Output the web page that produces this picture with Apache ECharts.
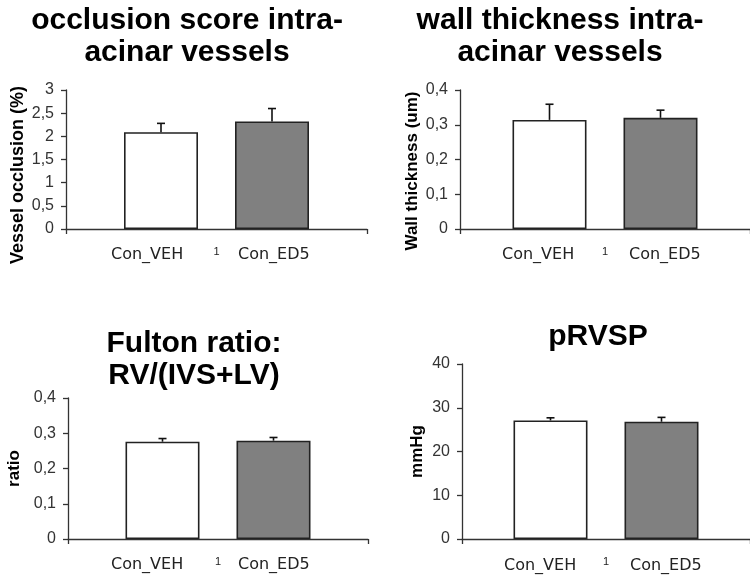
<!DOCTYPE html>
<html>
<head>
<meta charset="utf-8">
<script src="https://cdn.jsdelivr.net/npm/echarts@6/dist/echarts.min.js"></script>
<style>
  html, body { margin: 0; padding: 0; background: #fff; }
  #chart { width: 750px; height: 577px; }
</style>
</head>
<body>
<div id="chart"></div>
<script>
// groups and the single category on each x axis
const groups = ['Con_VEH', 'Con_ED5']
const category = ['1']

// occlusion score intra-acinar vessels
const occlusionMean = [2.09, 2.32]
const occlusionErr = [0.19, 0.28]
const occlusionTicks = [0, 0.5, 1, 1.5, 2, 2.5, 3]

// wall thickness intra-acinar vessels
const wallMean = [0.314, 0.320]
const wallErr = [0.045, 0.022]
const wallTicks = [0, 0.1, 0.2, 0.3, 0.4]

// Fulton ratio RV/(IVS+LV)
const fultonMean = [0.276, 0.279]
const fultonErr = [0.009, 0.009]
const fultonTicks = [0, 0.1, 0.2, 0.3, 0.4]

// pRVSP
const rvspMean = [27.1, 26.8]
const rvspErr = [0.6, 1.0]
const rvspTicks = [0, 10, 20, 30, 40]

const BAR_W = 74
const GAP = 0.5
const FONT = 'Liberation Sans, Arial, sans-serif'

const panels = [
  {
    title: 'occlusion score intra-\nacinar vessels', titleX: 187, titleTop: 5,
    yName: 'Vessel occlusion (%)', nameSize: 18, nameGap: 39, nameShift: 31,
    grid: { left: 66, top: 90, right: 383, bottom: 348 },
    mean: occlusionMean, err: occlusionErr, ticks: occlusionTicks,
    legendX: [105, 232], legendTop: 247,
  },
  {
    title: 'wall thickness intra-\nacinar vessels', titleX: 560, titleTop: 5,
    yName: 'Wall thickness (um)', nameSize: 17, nameGap: 39, nameShift: 23,
    grid: { left: 460, top: 90, right: 0, bottom: 348 },
    mean: wallMean, err: wallErr, ticks: wallTicks,
    legendX: [496, 623], legendTop: 247,
  },
  {
    title: 'Fulton ratio:\nRV/(IVS+LV)', titleX: 194, titleTop: 328,
    yName: 'ratio', nameSize: 17, nameGap: 45, nameShift: 0,
    grid: { left: 68, top: 398, right: 382, bottom: 38 },
    mean: fultonMean, err: fultonErr, ticks: fultonTicks,
    legendX: [105, 232], legendTop: 557,
  },
  {
    title: 'pRVSP', titleX: 598, titleTop: 321,
    yName: 'mmHg', nameSize: 17, nameGap: 36, nameShift: 0,
    grid: { left: 462, top: 364, right: 0, bottom: 38 },
    mean: rvspMean, err: rvspErr, ticks: rvspTicks,
    legendX: [498, 624], legendTop: 558,
  },
]

const fmt = v => String(v).replace('.', ',')

function errorBars(params, api) {
  const mean = api.value(1)
  const err = api.value(2)
  const base = api.coord([api.value(0), mean])
  const top = api.coord([api.value(0), mean + err])
  const off = (params.dataIndex === 0 ? -1 : 1) * BAR_W * (1 + GAP) / 2
  const x = base[0] + off
  const style = { stroke: '#111', lineWidth: 1.6 }
  return {
    type: 'group',
    children: [
      { type: 'line', shape: { x1: x, y1: base[1], x2: x, y2: top[1] }, style },
      { type: 'line', shape: { x1: x - 4, y1: top[1], x2: x + 4, y2: top[1] }, style },
    ],
  }
}

const chart = echarts.init(document.getElementById('chart'))

const option = {
  animation: false,
  backgroundColor: '#fff',
  title: panels.map(p => ({
    text: p.title,
    left: p.titleX,
    top: p.titleTop,
    textAlign: 'center',
    padding: 0,
    textStyle: { fontFamily: FONT, fontSize: 30, fontWeight: 'bold', color: '#000', lineHeight: 32 },
  })),
  legend: panels.flatMap(p => groups.map((g, i) => ({
    data: [g],
    left: p.legendX[i],
    top: p.legendTop,
    padding: 0,
    itemWidth: 0,
    itemHeight: 0,
    selectedMode: false,
    textStyle: { fontFamily: 'DejaVu Sans, Verdana, sans-serif', fontSize: 16, color: '#222' },
  }))),
  grid: panels.map(p => p.grid),
  xAxis: panels.map((p, i) => ({
    type: 'category',
    gridIndex: i,
    data: category,
    axisLine: { lineStyle: { color: '#333', width: 1.3 } },
    axisTick: { show: true, length: 5, lineStyle: { color: '#333', width: 1.3 } },
    axisLabel: { fontFamily: FONT, fontSize: 11, color: '#222', margin: 17 },
  })),
  yAxis: panels.map((p, i) => ({
    type: 'value',
    gridIndex: i,
    min: p.ticks[0],
    max: p.ticks[p.ticks.length - 1],
    interval: p.ticks[1] - p.ticks[0],
    name: p.yName,
    nameLocation: 'middle',
    nameGap: p.nameGap,
    nameTextStyle: {
      fontFamily: FONT, fontSize: p.nameSize, fontWeight: 'bold', color: '#000',
      padding: [0, p.nameShift, 0, 0],
    },
    splitLine: { show: false },
    axisLine: { show: true, lineStyle: { color: '#333', width: 1.3 } },
    axisTick: { show: true, length: 5, lineStyle: { color: '#333', width: 1.3 } },
    axisLabel: { fontFamily: FONT, fontSize: 16, color: '#333', margin: 12, formatter: fmt },
  })),
  series: panels.flatMap((p, i) => [
    {
      name: groups[0],
      type: 'bar',
      xAxisIndex: i,
      yAxisIndex: i,
      barWidth: BAR_W,
      barGap: (GAP * 100) + '%',
      data: [p.mean[0]],
      itemStyle: { color: '#fff', borderColor: '#222', borderWidth: 1.6 },
    },
    {
      name: groups[1],
      type: 'bar',
      xAxisIndex: i,
      yAxisIndex: i,
      barWidth: BAR_W,
      barGap: (GAP * 100) + '%',
      data: [p.mean[1]],
      itemStyle: { color: '#808080', borderColor: '#222', borderWidth: 1.6 },
    },
    {
      type: 'custom',
      xAxisIndex: i,
      yAxisIndex: i,
      renderItem: errorBars,
      encode: { x: 0, y: 1 },
      z: 5,
      data: p.mean.map((m, k) => [0, m, p.err[k]]),
    },
  ]),
}

chart.setOption(option)
</script>
</body>
</html>
